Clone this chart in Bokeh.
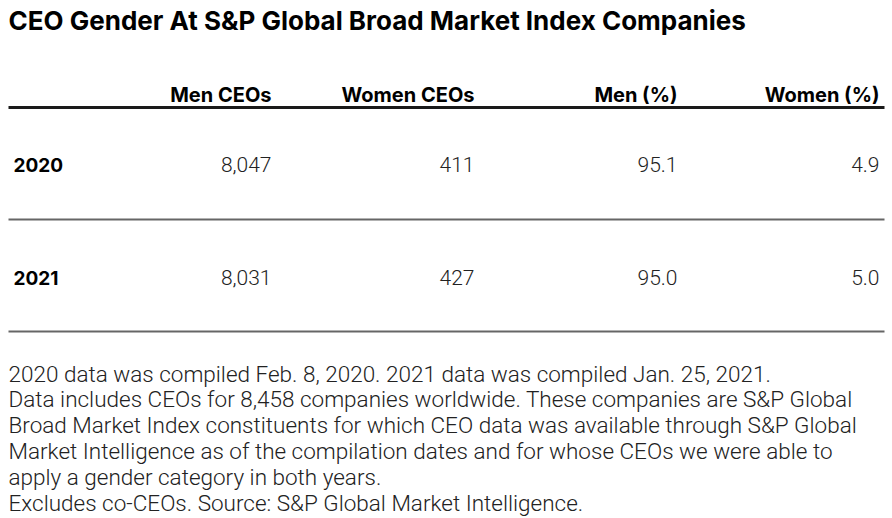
from bokeh.plotting import figure
from bokeh.models import Range1d, ColumnDataSource
from bokeh.core.properties import value
from bokeh.embed import file_html
from bokeh.resources import INLINE

# ---- data ----
title = "CEO Gender At S&P Global Broad Market Index Companies"
columns = ["Men CEOs", "Women CEOs", "Men (%)", "Women (%)"]
years = ["2020", "2021"]
men_ceos = [8047, 8031]
women_ceos = [411, 427]
men_pct = [95.1, 95.0]
women_pct = [4.9, 5.0]
notes = [
    "2020 data was compiled Feb. 8, 2020. 2021 data was compiled Jan. 25, 2021.",
    "Data includes CEOs for 8,458 companies worldwide. These companies are S&P Global",
    "Broad Market Index constituents for which CEO data was available through S&P Global",
    "Market Intelligence as of the compilation dates and for whose CEOs we were able to",
    "apply a gender category in both years.",
    "Excludes co-CEOs. Source: S&P Global Market Intelligence.",
]

# ---- layout (page pixel coordinates) ----
W, H = 892, 518
LEFT, RIGHT = 8, 884
col_right = [271, 474, 677, 879]
header_y = 94
row_y = [164, 277]
rule_y = [219, 331]
note_y0, note_dy = 373, 25.8

p = figure(width=W, height=H, x_range=Range1d(0, W), y_range=Range1d(H, 0),
           output_backend="svg", toolbar_location=None, min_border=0,
           x_axis_type=None, y_axis_type=None)
p.grid.visible = False
p.outline_line_color = None
p.background_fill_color = "white"
p.border_fill_color = "white"

# title
p.text(x=[LEFT], y=[20], text=[title], text_font=value("Inter"), text_font_style="bold",
       text_font_size="26px", text_baseline="middle", text_align="left", text_color="#000000")

# header
p.text(x=col_right, y=[header_y] * len(columns), text=columns, text_font=value("Inter"),
       text_font_style="bold", text_font_size="20px", text_baseline="middle",
       text_align="right", text_color="#000000")
p.segment(x0=[LEFT], x1=[RIGHT], y0=[107], y1=[107], line_width=3, line_color="#1a1a1a")

# rows
p.text(x=[13] * len(years), y=row_y, text=years, text_font=value("Inter"),
       text_font_style="bold", text_font_size="19px", text_baseline="middle",
       text_align="left", text_color="#000000")

cells_x, cells_y, cells_t = [], [], []
for i in range(len(years)):
    vals = [f"{men_ceos[i]:,}", f"{women_ceos[i]:,}", f"{men_pct[i]:.1f}", f"{women_pct[i]:.1f}"]
    for j, v in enumerate(vals):
        cells_x.append(col_right[j])
        cells_y.append(row_y[i])
        cells_t.append(v)
src = ColumnDataSource(dict(x=cells_x, y=cells_y, t=cells_t))
p.text(x="x", y="y", text="t", source=src, text_font=value("Roboto Light"),
       text_font_size="21px", text_baseline="middle", text_align="right", text_color="#222222")

p.segment(x0=[LEFT] * len(rule_y), x1=[RIGHT] * len(rule_y), y0=rule_y, y1=rule_y,
          line_width=2, line_color="#666666")

# notes
p.text(x=[LEFT] * len(notes), y=[note_y0 + i * note_dy for i in range(len(notes))], text=notes,
       text_font=value("Roboto Light"), text_font_size="22.5px", text_baseline="middle",
       text_align="left", text_color="#222222")

open("out.html", "w").write(file_html(p, INLINE))
